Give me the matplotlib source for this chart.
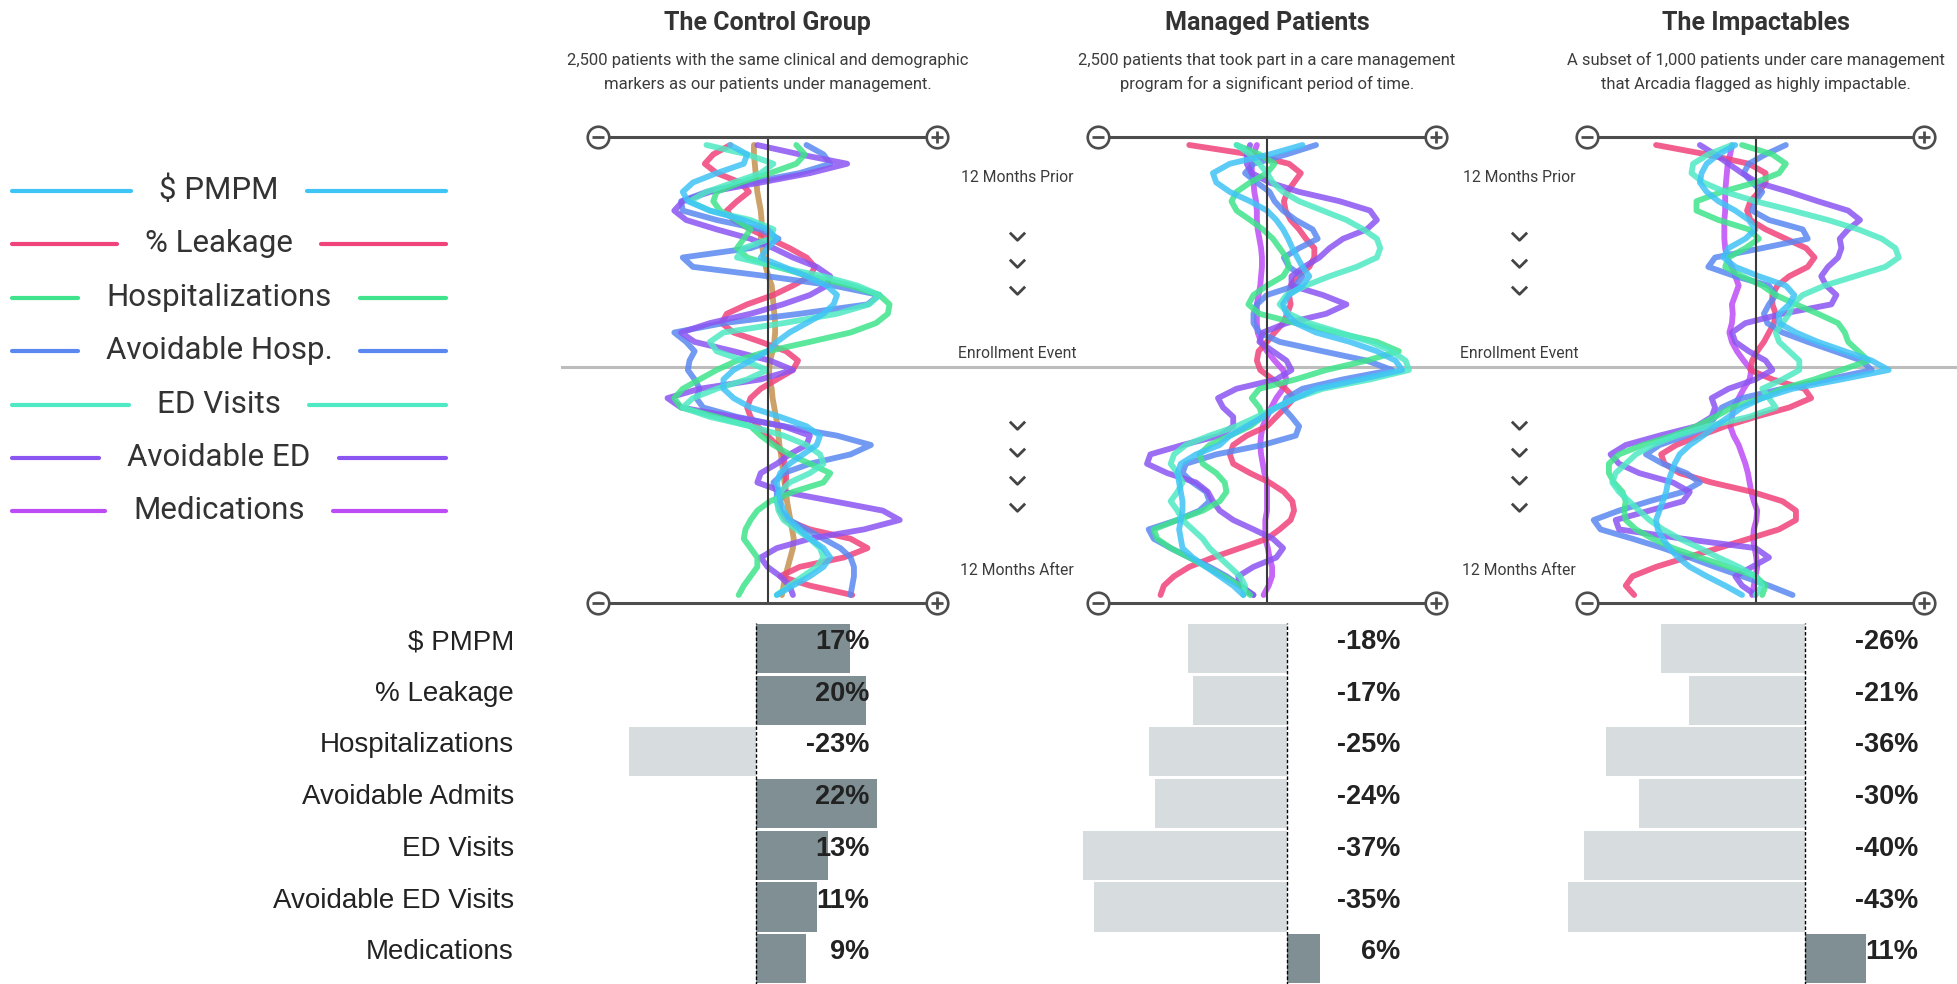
import matplotlib

matplotlib.use("Agg")
import matplotlib.pyplot as plt
from matplotlib.path import Path

W, H = 1957, 984

# ---- data -------------------------------------------------------------
# half-month steps from 12 months prior to 12 months after enrollment
MONTHS = [m / 2 for m in range(-24, 25)]

METRICS = ["$ PMPM", "% Leakage", "Hospitalizations", "Avoidable Hosp.",
           "ED Visits", "Avoidable ED", "Medications"]
COLORS = ["#3fc4f6", "#f0437b", "#3ee38b", "#5b88f0", "#4fe9c3", "#8b55f1", "#bd4cf6"]
CONTROL_MED_COLOR = "#c49150"

# wiggle traces: relative movement (-10 = far left, +10 = far right)
CONTROL_PMPM = [-2.2, -1.2, -1.4, -3.0, -4.4, -5.0, -4.7, -3.4, -1.4, 0.0,
                0.55, 0.0, -0.4, 0.95, 2.3, 3.5, 4.1, 3.9, 3.3, 2.3,
                1.3, 0.55, 0.0, -1.0, -2.0, -2.6, -2.6, -2.0, -1.0, 0.75,
                2.3, 3.1, 2.9, 2.1, 1.3, 0.75, 0.55, 0.65, 0.75, 0.95,
                1.3, 1.9, 2.5, 3.3, 3.7, 3.3, 2.5, 1.5, 0.55]
CONTROL_LEAK = [-2.2, -3.2, -3.7, -3.0, -1.6, -1.1, -1.8, -2.4, -2.0, -1.0,
                0.15, 1.3, 2.3, 2.8, 2.5, 1.5, 0.35, -1.2, -2.4, -2.7,
                -2.0, -0.4, 1.1, 1.8, 1.5, 0.55, -0.4, -1.0, -1.2, -1.0,
                -0.6, 0.0, 0.55, 0.95, 1.0, 1.1, 1.1, 0.95, 0.75, 0.75,
                1.1, 2.5, 4.9, 5.9, 4.5, 1.9, 0.75, 2.5, 5.0]
CONTROL_HOSP = [1.7, 2.2, 1.7, 0.15, -1.6, -3.0, -3.2, -2.8, -1.8, -1.0,
                -1.4, -1.8, -1.2, 0.55, 2.5, 4.9, 6.6, 7.2, 7.1, 6.4,
                4.9, 2.5, 0.0, -1.8, -3.0, -4.0, -5.0, -5.5, -5.1, -3.0,
                -1.0, -0.4, 0.35, 1.3, 2.5, 3.7, 3.3, 1.5, 0.15, -0.6,
                -1.0, -1.3, -1.4, -1.0, -0.6, -0.6, -1.0, -1.4, -1.7]
CONTROL_AVHOSP = [2.3, 3.3, 3.7, 1.9, -1.0, -3.6, -5.1, -5.0, -3.0, -0.4,
                  0.65, -1.0, -5.0, -4.4, 0.0, 3.9, 6.6, 5.9, 1.9, -2.6,
                  -5.5, -4.8, -4.3, -4.6, -4.7, -4.3, -4.0, -4.2, -3.8, -1.8,
                  0.95, 4.1, 6.1, 4.9, 2.5, 0.95, 0.35, 0.55, 0.55, 0.75,
                  1.3, 2.3, 3.3, 4.3, 4.9, 5.1, 5.1, 5.0, 4.9]
CONTROL_ED = [-3.6, -1.2, 0.35, -0.4, -2.0, -3.6, -4.6, -3.4, -1.0, 0.35,
              0.15, -1.4, -1.8, 0.55, 3.3, 5.3, 6.6, 6.0, 4.1, 0.95,
              -2.6, -3.4, -3.0, -1.4, 0.0, -1.2, -3.0, -4.4, -5.0, -3.4,
              -1.0, 0.95, 2.3, 3.1, 3.3, 2.5, 1.3, 0.75, 0.55, 0.65,
              0.95, 1.7, 2.5, 3.1, 3.3, 2.9, 2.1, 1.3, 0.55]
CONTROL_AVED = [-0.6, 1.9, 4.7, 2.5, -0.4, -3.4, -5.0, -5.5, -4.8, -3.0,
                -1.0, 0.35, 1.5, 2.9, 3.7, 3.5, 2.5, 0.9, -1.0, -3.4,
                -5.1, -4.3, -2.0, 0.15, 1.5, -0.4, -4.0, -5.9, -5.1, -2.0,
                0.95, 2.5, 2.3, 1.3, 0.55, -0.4, -0.6, 0.95, 3.9, 6.8,
                7.8, 5.7, 2.5, 0.55, -0.4, 0.0, 0.75, 1.3, 1.5]
CONTROL_MEDS = [-0.8, -0.8, -0.75, -0.7, -0.65, -0.6, -0.5, -0.4, -0.35, -0.35,
                -0.4, -0.3, -0.2, -0.1, 0.05, 0.25, 0.3, 0.35, 0.4, 0.45,
                0.45, 0.4, 0.3, 0.15, 0.1, 0.1, 0.25, 0.3, 0.4, 0.5,
                0.6, 0.65, 0.7, 0.8, 0.85, 0.95, 1.0, 1.1, 1.15, 1.25,
                1.35, 1.45, 1.55, 1.5, 1.35, 1.2, 1.05, 0.95, 0.85]

MANAGED_PMPM = [2.1, 0.15, -2.2, -3.2, -3.0, -2.2, -1.0, 0.0, 0.55, 0.95,
                1.25, 1.5, 1.8, 2.1, 2.5, 2.1, 1.3, 0.95, 1.15, 1.7,
                2.9, 4.9, 6.5, 7.6, 8.0, 5.5, 2.9, 1.7, 0.55, -0.25,
                -1.2, -2.2, -2.8, -4.2, -5.1, -5.3, -5.2, -5.1, -5.0, -5.0,
                -5.1, -5.2, -5.1, -5.0, -4.4, -3.6, -2.8, -2.0, -1.4]
MANAGED_LEAK = [-4.6, -1.0, 1.3, 2.0, 1.6, 1.2, 1.0, 1.1, 1.4, 1.9,
                2.3, 2.8, 2.8, 2.5, 1.8, 1.4, 1.3, 1.4, 1.2, 0.95,
                0.45, 0.0, -0.5, -0.6, -0.4, 0.35, 1.1, 1.6, 1.1, 0.55,
                0.0, -1.2, -2.0, -2.2, -2.0, -1.0, 0.15, 1.0, 1.5, 1.6,
                1.4, 0.75, 0.0, -1.6, -3.2, -4.6, -5.5, -6.1, -6.3]
MANAGED_HOSP = [-1.8, -0.45, 0.45, 0.0, -1.0, -1.8, -2.1, -1.8, -1.0, -0.25,
                0.35, 0.75, 1.15, 1.3, 0.95, 0.0, -0.8, -1.1, -0.45, 1.7,
                4.1, 6.5, 7.8, 5.9, 3.5, 1.7, -0.45, -0.9, -0.45, -0.25,
                -1.0, -2.2, -3.4, -4.0, -3.8, -3.0, -2.5, -2.4, -2.8, -3.8,
                -5.3, -6.7, -6.5, -5.7, -4.6, -3.6, -2.6, -1.6, -1.0]
MANAGED_AVHOSP = [2.9, 1.15, -0.8, -1.3, -0.6, 0.15, 0.45, 0.95, 1.7, 2.7,
                  3.0, 1.9, 1.0, 1.3, 2.1, 1.7, 0.0, -0.6, -0.8, -0.8,
                  -0.45, 0.75, 3.3, 5.9, 7.4, 4.5, 2.1, 1.15, 0.95, 1.45,
                  1.9, 1.7, -0.25, -3.0, -4.8, -5.0, -4.4, -3.6, -3.4, -4.0,
                  -5.3, -7.0, -6.7, -5.7, -4.6, -3.4, -2.4, -1.6, -0.8]
MANAGED_ED = [-1.8, -1.0, -0.45, 0.0, 0.35, 0.95, 1.9, 3.3, 4.7, 5.7,
              6.5, 6.7, 6.5, 5.3, 3.7, 2.3, 1.15, 0.75, 1.3, 2.5,
              4.3, 6.1, 7.4, 8.2, 8.4, 6.1, 3.3, 1.7, 0.55, -0.6,
              -1.8, -3.4, -4.8, -5.5, -5.7, -5.3, -5.0, -5.3, -5.7, -5.3,
              -5.0, -4.4, -3.8, -3.4, -2.8, -2.2, -1.6, -1.3, -1.4]
MANAGED_AVED = [-1.0, -1.2, -1.2, -0.9, 0.15, 1.9, 4.3, 6.1, 6.5, 5.9,
                4.5, 3.7, 3.1, 2.2, 1.45, 1.45, 3.3, 4.7, 3.5, 1.15,
                -0.25, -0.45, 0.35, 1.15, 1.45, 0.55, -1.8, -2.9, -2.6, -2.0,
                -2.0, -2.8, -5.0, -6.9, -7.1, -5.9, -4.2, -3.5, -3.2, -2.8,
                -2.0, -0.8, 0.35, 0.95, 0.55, -0.8, -1.7, -1.6, -0.8]
MANAGED_MEDS = [-0.6, -0.8, -0.9, -0.9, -0.8, -0.75, -0.65, -0.6, -0.6, -0.55,
                -0.45, -0.35, -0.3, -0.3, -0.35, -0.4, -0.5, -0.6, -0.6, -0.6,
                -0.55, -0.35, 0.0, 0.45, 0.95, 1.15, 0.95, 0.55, 0.25, 0.0,
                -0.25, -0.35, -0.4, -0.35, -0.25, -0.15, 0.0, 0.0, 0.0, 0.0,
                -0.1, -0.1, -0.1, 0.05, 0.15, 0.3, 0.3, 0.1, -0.2]

IMPACT_PMPM = [-1.2, -2.2, -2.9, -3.2, -3.3, -2.9, -2.2, -1.2, -0.4, 0.0,
               -0.6, -1.6, -1.9, -1.2, 0.2, 1.8, 2.3, 2.0, 1.4, 1.4,
               2.4, 3.7, 5.3, 6.9, 7.9, 5.1, 2.2, 0.4, -0.8, -1.6,
               -2.4, -3.1, -3.9, -4.5, -4.8, -5.0, -5.2, -5.3, -5.5, -5.7,
               -5.9, -5.8, -5.5, -5.1, -4.6, -3.9, -2.9, -1.8, -0.8]
IMPACT_LEAK = [-5.9, -2.9, -0.4, 0.6, 0.6, 0.2, -0.3, -0.5, -0.3, 0.6,
               1.8, 3.0, 3.5, 3.1, 2.0, 1.3, 1.0, 1.0, 1.2, 1.1,
               0.8, 0.5, 0.1, -0.2, -0.3, 1.0, 2.9, 3.3, 2.0, 0.0,
               -1.8, -3.3, -4.7, -5.6, -5.4, -4.5, -2.6, -0.2, 1.6, 2.4,
               2.4, 1.4, -0.4, -2.2, -4.1, -5.9, -7.3, -7.7, -7.2]
IMPACT_HOSP = [-0.8, 1.0, 1.8, 1.4, 0.0, -2.0, -3.5, -3.5, -2.2, -0.4,
               0.2, -0.6, -1.6, -1.8, -0.8, 0.4, 1.2, 2.4, 3.7, 4.9,
               5.3, 5.5, 6.1, 6.7, 5.1, 3.5, 1.6, 0.4, -1.4, -2.4,
               -3.5, -4.9, -6.7, -8.1, -8.7, -8.7, -8.4, -7.9, -7.7, -7.8,
               -7.7, -7.1, -6.1, -4.9, -3.3, -1.6, 0.0, 0.6, 0.4]
IMPACT_AVHOSP = [1.8, 0.6, -0.4, -0.7, -0.2, 0.4, 0.0, -0.2, 0.8, 2.8,
                 3.1, 0.4, -2.4, -2.8, -1.2, 0.8, 1.2, 0.8, 0.5, 0.7,
                 1.6, 3.1, 4.7, 6.3, 6.9, 4.3, 1.6, -0.8, -2.0, -2.4,
                 -2.8, -4.1, -5.7, -6.5, -5.5, -4.1, -3.3, -4.3, -6.3, -8.1,
                 -9.6, -9.2, -7.3, -5.5, -3.9, -2.4, -0.8, 0.8, 2.2]
IMPACT_ED = [-1.4, -2.8, -3.7, -3.8, -3.1, -1.8, 0.0, 2.2, 4.3, 6.1,
             7.5, 8.3, 8.5, 7.7, 5.9, 4.1, 2.8, 2.2, 2.0, 1.6,
             1.2, 1.4, 2.0, 2.6, 2.6, 1.6, 0.4, 0.8, 1.2, -0.4,
             -2.8, -4.7, -6.1, -7.1, -7.7, -8.3, -8.5, -8.1, -7.5, -6.9,
             -6.3, -5.5, -4.5, -3.3, -2.2, -1.0, 0.0, 0.4, 0.0]
IMPACT_AVED = [-3.3, -2.4, -1.6, -0.8, 0.1, 2.0, 3.7, 5.5, 6.2, 5.5,
               5.0, 5.1, 4.9, 4.3, 3.9, 4.2, 4.8, 4.5, 1.6, -0.6,
               -1.4, -1.2, -0.4, 0.6, 1.0, 0.0, -1.6, -2.6, -2.4, -2.6,
               -3.5, -5.7, -7.7, -8.6, -8.1, -6.9, -4.9, -3.9, -4.3, -6.3,
               -8.3, -8.1, -4.3, 0.0, 0.8, -0.2, -1.2, -0.8, 0.0]
IMPACT_MEDS = [-1.4, -1.5, -1.65, -1.7, -1.75, -1.8, -1.8, -1.8, -1.85, -1.85,
               -1.85, -1.8, -1.7, -1.4, -1.2, -1.0, -1.2, -1.4, -1.35, -1.4,
               -1.55, -1.4, -1.1, -0.7, -0.25, -0.35, -0.7, -1.0, -1.3, -1.4,
               -1.5, -1.3, -1.0, -0.8, -0.6, -0.45, -0.35, -0.25, -0.1, 0.1,
               0.05, -0.1, -0.15, -0.05, 0.05, 0.1, 0.0, -0.1, -0.2]

# bar section
BAR_LABELS = ["$ PMPM", "% Leakage", "Hospitalizations", "Avoidable Admits",
              "ED Visits", "Avoidable ED Visits", "Medications"]
CONTROL_CHANGE = [17, 20, -23, 22, 13, 11, 9]
MANAGED_CHANGE = [-18, -17, -25, -24, -37, -35, 6]
IMPACT_CHANGE = [-26, -21, -36, -30, -40, -43, 11]

TITLES = ["The Control Group", "Managed Patients", "The Impactables"]
SUBTITLES = [
    ["2,500 patients with the same clinical and demographic",
     "markers as our patients under management."],
    ["2,500 patients that took part in a care management",
     "program for a significant period of time."],
    ["A subset of 1,000 patients under care management",
     "that Arcadia flagged as highly impactable."],
]
TIME_LABELS = ["12 Months Prior", "Enrollment Event", "12 Months After"]

# ---- layout (pixels) --------------------------------------------------
PANEL_X = [(598, 937), (1098, 1436), (1587, 1924)]
AXIS_TOP, AXIS_BOTTOM = 137, 603
ENROLL_Y = 367
T_TOP = 12 + 8 / 18.75
TIME_COL_X = [1017, 1519]
CHEVRON_Y = [236, 263, 290, 425, 452, 480, 507]

BAR_ZERO = [756, 1287, 1805]
BAR_SPAN = [(560, 940), (1060, 1440), (1540, 1957)]
PX_PER_PCT = 5.52
ROW0, PITCH = 648.5, 51.7
LABEL_PCT = 20.5

SANS = "Roboto"
BARFONT = "Liberation Sans"
DARK = "#333333"
AXIS_GREY = "#4d4d4d"

fig = plt.figure(figsize=(W / 100, H / 100), dpi=100)
fig.patch.set_facecolor("white")


def px_axes(left, top, right, bottom, z=1):
    ax = fig.add_axes([left / W, 1 - bottom / H, (right - left) / W, (bottom - top) / H],
                      zorder=z)
    ax.patch.set_visible(False)
    ax.axis("off")
    return ax


overlay = px_axes(0, 0, W, H, z=0)
overlay.set_xlim(0, W)
overlay.set_ylim(H, 0)

# enrollment line across the panels
overlay.plot([562, W], [ENROLL_Y, ENROLL_Y], color="#bcbcbc", lw=2.2, zorder=1)

# titles
for (l, r), title, sub in zip(PANEL_X, TITLES, SUBTITLES):
    cx = (l + r) / 2
    overlay.text(cx, 30, title, ha="center", va="baseline", fontsize=18,
                 fontweight="bold", color=DARK, family=SANS)
    overlay.text(cx, 65, sub[0], ha="center", va="baseline", fontsize=12,
                 color="#3c3c3c", family=SANS)
    overlay.text(cx, 89, sub[1], ha="center", va="baseline", fontsize=12,
                 color="#3c3c3c", family=SANS)

# time column labels and chevrons
chevron = Path([(-1, 0.5), (0, -0.5), (1, 0.5)], [Path.MOVETO, Path.LINETO, Path.LINETO])
for x in TIME_COL_X:
    for y, txt in zip([182, 358, 575], TIME_LABELS):
        overlay.text(x, y, txt, ha="center", va="baseline", fontsize=11.3,
                     color="#3c3c3c", family=SANS)
    overlay.plot([x] * len(CHEVRON_Y), CHEVRON_Y, linestyle="none", marker=chevron,
                 ms=11, mfc="none", mec="#444444", mew=2.0)

# wiggle panels
panels = [
    [CONTROL_PMPM, CONTROL_LEAK, CONTROL_HOSP, CONTROL_AVHOSP, CONTROL_ED, CONTROL_AVED, CONTROL_MEDS],
    [MANAGED_PMPM, MANAGED_LEAK, MANAGED_HOSP, MANAGED_AVHOSP, MANAGED_ED, MANAGED_AVED, MANAGED_MEDS],
    [IMPACT_PMPM, IMPACT_LEAK, IMPACT_HOSP, IMPACT_AVHOSP, IMPACT_ED, IMPACT_AVED, IMPACT_MEDS],
]
draw_order = [6, 1, 3, 5, 2, 4, 0]
for p, ((l, r), series) in enumerate(zip(PANEL_X, panels)):
    ax = px_axes(l, AXIS_TOP, r, AXIS_BOTTOM)
    ax.set_xlim(-10, 10)
    ax.set_ylim(T_TOP, -T_TOP)
    for i in draw_order:
        color = CONTROL_MED_COLOR if (p == 0 and i == 6) else COLORS[i]
        ax.plot(series[i], MONTHS, color=color, lw=4.2, alpha=0.85,
                solid_capstyle="round", solid_joinstyle="round", zorder=2)
    ax.plot([0, 0], [-T_TOP, T_TOP], color="#3a3a3a", lw=1.5, zorder=3, clip_on=False)
    for yy in (-T_TOP, T_TOP):
        ax.plot([-10, 10], [yy, yy], color=AXIS_GREY, lw=2.2, zorder=4, clip_on=False)
        ax.plot([-10, 10], [yy, yy], linestyle="none", marker="o", ms=15.5, mfc="white",
                mec=AXIS_GREY, mew=1.9, zorder=5, clip_on=False)
        ax.plot([-10], [yy], marker="_", ms=9, mec=AXIS_GREY, mew=2.0, zorder=6, clip_on=False)
        ax.plot([10], [yy], marker="+", ms=9, mec=AXIS_GREY, mew=2.0, zorder=6, clip_on=False)

# legend on the left
fig.canvas.draw()
renderer = fig.canvas.get_renderer()
inv = overlay.transData.inverted()
for k, (name, color) in enumerate(zip(METRICS, COLORS)):
    base = 199 + 53.4 * k
    label = name.replace("$", r"\$")
    t = overlay.text(219, base, label, ha="center", va="baseline", fontsize=22.5,
                     color=DARK, family=SANS)
    bb = t.get_window_extent(renderer)
    (x0, _), (x1, _) = inv.transform([(bb.x0, bb.y0), (bb.x1, bb.y1)])
    ly = base - 8
    overlay.plot([12, x0 - 28], [ly, ly], color=color, lw=3.0, solid_capstyle="round")
    overlay.plot([x1 + 28, 446], [ly, ly], color=color, lw=3.0, solid_capstyle="round")

# bar rows
for k, name in enumerate(BAR_LABELS):
    overlay.text(514, ROW0 + 0.5 + PITCH * k, name.replace("$", r"\$"), ha="right",
                 va="baseline", fontsize=20, color="#222222", family=BARFONT)

rows = list(range(len(BAR_LABELS)))
for zero, (l, r), values in zip(BAR_ZERO, BAR_SPAN, [CONTROL_CHANGE, MANAGED_CHANGE, IMPACT_CHANGE]):
    top = ROW0 - PITCH / 2
    ax = px_axes(l, top, r, top + PITCH * len(rows))
    ax.set_xlim((l - zero) / PX_PER_PCT, (r - zero) / PX_PER_PCT)
    ax.set_ylim(len(rows) - 0.5, -0.5)
    colors = ["#7f8f93" if v > 0 else "#d7dcdf" for v in values]
    ax.barh(rows, values, height=0.95, color=colors, zorder=1)
    ax.axvline(0, color="black", lw=1.0, linestyle=(0, (2.5, 1.5)), zorder=2)
    for y, v in zip(rows, values):
        ax.text(LABEL_PCT, y + 0.01, f"{v}%", ha="right", va="baseline", fontsize=19.5,
                fontweight="bold", color="#222222", family=BARFONT, zorder=3)

fig.savefig("out.png", dpi=100)
